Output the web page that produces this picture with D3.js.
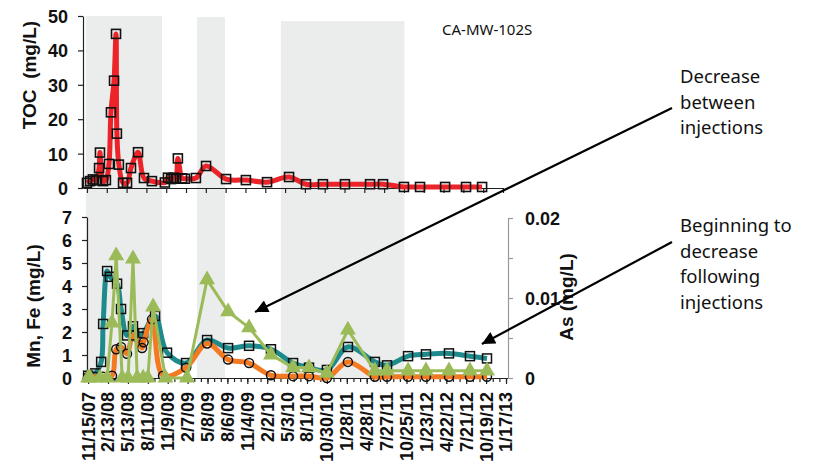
<!DOCTYPE html>
<html>
<head>
<meta charset="utf-8">
<script src="https://cdn.jsdelivr.net/npm/d3@7"></script>
<style>
  body { margin: 0; background: #fff; }
  svg { display: block; }
  .tick text, .axis-title { font-family: 'Liberation Sans', Arial, sans-serif; font-weight: bold; fill: #111; }
  .tick text { font-size: 18px; }
  .axis-title { font-size: 19px; white-space: pre; }
  .note { font-family: 'Noto Sans', sans-serif; font-size: 18.5px; fill: #111; }
  .well { font-family: 'Noto Sans', sans-serif; font-size: 15px; fill: #111; }
</style>
</head>
<body>
<div class="chart"></div>
<script>
const parseDate = d3.timeParse('%m/%d/%y')

// quarterly tick labels on the date axis
const xTickLabels = ['11/15/07', '2/13/08', '5/13/08', '8/11/08', '11/9/08', '2/7/09', '5/8/09',
  '8/6/09', '11/4/09', '2/2/10', '5/3/10', '8/1/10', '10/30/10', '1/28/11', '4/28/11',
  '7/27/11', '10/25/11', '1/23/12', '4/22/12', '7/21/12', '10/19/12', '1/17/13']

// injection periods (grey bands)
const injectionStarts = ['11/10/07', '3/29/09', '4/14/10']
const injectionEnds = ['10/21/08', '8/3/09', '10/27/11']
const injectionTops = [50, 49.7, 48.5]

// TOC (mg/L)
const tocDates = ['11/15/07', '11/29/07', '12/12/07', '12/26/07', '1/9/08', '1/13/08', '1/27/08',
  '2/9/08', '2/23/08', '3/3/08', '3/17/08', '3/26/08', '3/30/08', '4/8/08', '4/27/08', '5/15/08',
  '6/2/08', '7/4/08', '7/31/08', '9/5/08', '11/3/08', '11/17/08', '12/1/08', '12/14/08',
  '12/23/08', '1/1/09', '1/20/09', '2/2/09', '3/24/09', '5/9/09', '8/8/09', '11/6/09',
  '2/10/10', '5/21/10', '8/6/10', '10/22/10', '1/30/11', '5/24/11', '7/22/11', '10/25/11',
  '1/6/12', '4/29/12', '8/2/12', '10/14/12']
const tocValues = [1.5, 2.0, 2.5, 2.2, 5.8, 10.3, 2.0, 2.3, 7.0, 22, 31.2, 44.8, 15.8, 6.8, 1.5,
  1.5, 5.8, 10.4, 2.9, 2.0, 1.6, 3.0, 2.6, 3.0, 2.7, 8.6, 2.8, 2.7, 2.9, 6.4, 2.6, 2.3, 1.7, 3.2,
  1.1, 1.1, 1.1, 1.1, 1.1, 0.3, 0.3, 0.3, 0.3, 0.3]

// Mn (mg/L) - teal squares
const mnDates = ['11/15/07', '12/17/07', '1/13/08', '1/22/08', '2/9/08', '2/22/08', '3/25/08',
  '4/12/08', '5/9/08', '6/5/08', '7/2/08', '7/21/08', '9/13/08', '11/6/08', '1/31/09', '5/6/09',
  '8/9/09', '11/12/09', '2/19/10', '5/30/10', '8/10/10', '10/30/10', '2/2/11', '6/4/11',
  '7/29/11', '11/1/11', '1/21/12', '5/4/12', '8/7/12', '10/23/12']
const mnValues = [0.1, 0.2, 0.7, 2.35, 4.65, 4.4, 4.1, 3.0, 1.85, 2.25, 1.8, 1.95, 2.7, 1.1, 0.65,
  1.65, 1.3, 1.4, 1.25, 0.65, 0.45, 0.35, 1.35, 0.7, 0.55, 0.95, 1.03, 1.07, 0.95, 0.85]

// Fe (mg/L) - orange circles
const feDates = ['11/15/07', '12/17/07', '1/22/08', '3/2/08', '3/21/08', '4/12/08', '5/9/08',
  '6/5/08', '7/16/08', '7/23/08', '8/30/08', '10/19/08', '1/31/09', '5/6/09', '8/9/09',
  '11/12/09', '2/19/10', '5/30/10', '8/10/10', '10/30/10', '2/2/11', '6/4/11', '7/29/11',
  '11/1/11', '1/21/12', '5/4/12', '8/7/12', '10/23/12']
const feValues = [0.05, 0.05, 0.05, 0.1, 1.25, 1.35, 1.05, 1.85, 1.3, 1.55, 2.55, 0.1, 0.45, 1.5,
  0.8, 0.65, 0.12, 0.08, 0.08, 0, 0.7, 0.05, 0.05, 0.05, 0.05, 0.05, 0.05, 0.05]

// As (mg/L) - green triangles, right axis
const asDates = ['11/15/07', '11/24/07', '1/8/08', '2/9/08', '3/2/08', '3/21/08', '4/17/08',
  '5/14/08', '6/5/08', '6/24/08', '7/21/08', '8/11/08', '9/4/08', '10/30/08', '2/4/09',
  '5/6/09', '8/9/09', '11/12/09', '2/19/10', '5/30/10', '8/10/10', '10/30/10', '2/2/11',
  '6/4/11', '7/29/11', '11/1/11', '1/21/12', '5/4/12', '8/7/12', '10/23/12']
const asValues = [0, 0, 0, 0, 0.0069, 0.0153, 0, 0, 0.0149, 0, 0, 0, 0.0089, 0, 0, 0.0123,
  0.0083, 0.0063, 0.0029, 0.0013, 0.0013, 0.0006, 0.006, 0.0009, 0.0009, 0.0009, 0.0009,
  0.0009, 0.0009, 0.0009]

// annotations
const noteLines = [
  ['Decrease', 'between', 'injections'],
  ['Beginning to', 'decrease', 'following', 'injections']
]
const noteTipDates = ['12/9/09', '9/30/12']
const noteTipValues = [2.87, 1.48]

const colors = { toc: '#ec2328', mn: '#1e8a8b', fe: '#f47a22', as: '#9bbb59', band: '#ebecec' }

const tickDates = xTickLabels.map(parseDate)
const firstTick = tickDates[0]
const lastTick = tickDates[tickDates.length - 1]

const svg = d3.select('.chart')
  .append('svg')
  .attr('width', 816)
  .attr('height', 472)

svg.append('defs')
  .append('marker')
  .attr('id', 'head')
  .attr('viewBox', '0 0 10 10')
  .attr('refX', 10)
  .attr('refY', 5)
  .attr('markerUnits', 'userSpaceOnUse')
  .attr('markerWidth', 16)
  .attr('markerHeight', 13)
  .attr('orient', 'auto')
  .append('path')
  .attr('d', 'M0,0L10,5L0,10z')
  .attr('fill', '#000')

// scales
const xTop = d3.scaleTime()
  .domain([d3.timeDay.offset(firstTick, -18), lastTick])
  .range([83, 503])
const yToc = d3.scaleLinear().domain([0, 50]).range([188, 16])

const xBottom = d3.scaleTime()
  .domain([d3.timeDay.offset(firstTick, -5), d3.timeDay.offset(lastTick, 9)])
  .range([87, 508])
const yMetal = d3.scaleLinear().domain([0, 7]).range([378, 217])
const yAs = d3.scaleLinear().domain([0, 0.02]).range([378, 218])

// injection bands spanning both panels
svg.append('g')
  .selectAll('rect')
  .data(injectionStarts)
  .join('rect')
  .attr('x', (d) => xTop(parseDate(d)))
  .attr('y', (d, i) => yToc(injectionTops[i]))
  .attr('width', (d, i) => xTop(parseDate(injectionEnds[i])) - xTop(parseDate(d)))
  .attr('height', (d, i) => yMetal(0) - yToc(injectionTops[i]))
  .attr('fill', colors.band)

makeTopChart()
makeBottomChart()
makeNotes()

function styleAxis(g, color) {
  g.selectAll('.domain').attr('stroke', color).attr('stroke-width', 1.2)
  g.selectAll('.tick line').attr('stroke', color).attr('stroke-width', 1.2)
}

function makeTopChart() {
  svg.append('g')
    .attr('transform', `translate(0, ${yToc(0)})`)
    .call(d3.axisBottom(xTop).tickValues(tickDates).tickSize(5).tickSizeOuter(0).tickFormat(''))
    .call((g) => styleAxis(g, '#222'))

  svg.append('g')
    .attr('transform', `translate(${xTop.range()[0]}, 0)`)
    .call(d3.axisLeft(yToc).tickValues([0, 10, 20, 30, 40, 50]).tickSize(5).tickSizeOuter(0).tickPadding(10))
    .call((g) => styleAxis(g, '#222'))
    .call((g) => g.selectAll('.tick text').attr('dy', '0.36em'))

  svg.append('text')
    .attr('class', 'axis-title')
    .attr('transform', 'translate(36, 75) rotate(-90)')
    .attr('text-anchor', 'middle')
    .text('TOC  (mg/L)')

  svg.append('text')
    .attr('class', 'well')
    .attr('x', 442)
    .attr('y', 35)
    .text('CA-MW-102S')

  const data = tocDates.map((d, i) => ({ date: parseDate(d), value: tocValues[i] }))

  svg.append('path')
    .datum(data)
    .attr('fill', 'none')
    .attr('stroke', colors.toc)
    .attr('stroke-width', 5)
    .attr('stroke-linejoin', 'round')
    .attr('d', d3.line()
      .x((d) => xTop(d.date))
      .y((d) => yToc(d.value))
      .curve(d3.curveCatmullRom.alpha(0.5)))

  svg.append('g')
    .selectAll('rect')
    .data(data)
    .join('rect')
    .attr('x', (d) => xTop(d.date) - 4.5)
    .attr('y', (d) => yToc(d.value) - 4.5)
    .attr('width', 9)
    .attr('height', 9)
    .attr('fill', 'none')
    .attr('stroke', '#111')
    .attr('stroke-width', 1.6)
}

function makeBottomChart() {
  // minor ticks every 30 days
  const minorDates = d3.range(0, 64).map((i) => d3.timeDay.offset(firstTick, i * 30))
    .filter((d) => d <= lastTick)

  svg.append('g')
    .attr('transform', `translate(0, ${yMetal(0)})`)
    .call(d3.axisBottom(xBottom).tickValues(minorDates).tickSize(4).tickSizeOuter(0).tickFormat(''))
    .call((g) => styleAxis(g, '#222'))

  svg.append('g')
    .attr('transform', `translate(0, ${yMetal(0)})`)
    .call(d3.axisBottom(xBottom).tickValues(tickDates).tickSize(6).tickSizeOuter(0).tickFormat(''))
    .call((g) => styleAxis(g, '#222'))

  // rotated date labels
  svg.append('g')
    .attr('class', 'tick')
    .selectAll('text')
    .data(tickDates)
    .join('text')
    .attr('transform', (d) => `translate(${xBottom(d)}, ${yMetal(0) + 14}) rotate(-90)`)
    .attr('text-anchor', 'end')
    .attr('dy', '0.36em')
    .text((d, i) => xTickLabels[i])

  svg.append('g')
    .attr('transform', `translate(${xBottom.range()[0]}, 0)`)
    .call(d3.axisLeft(yMetal).ticks(7).tickSize(5).tickSizeOuter(0).tickPadding(10))
    .call((g) => styleAxis(g, '#222'))
    .call((g) => g.selectAll('.tick text').attr('dy', '0.36em'))

  svg.append('g')
    .attr('transform', `translate(${xBottom.range()[1]}, 0)`)
    .call(d3.axisRight(yAs).tickValues([0, 0.005, 0.01, 0.015, 0.02]).tickSize(5).tickSizeOuter(0).tickPadding(12)
      .tickFormat((d) => (d === 0 ? '0' : (d * 100) % 1 === 0 ? d3.format('.2f')(d) : '')))
    .call((g) => styleAxis(g, '#999'))
    .call((g) => g.selectAll('.tick text').attr('dy', '0.36em'))

  svg.append('text')
    .attr('class', 'axis-title')
    .attr('transform', 'translate(40, 306) rotate(-90)')
    .attr('text-anchor', 'middle')
    .text('Mn, Fe (mg/L)')

  svg.append('text')
    .attr('class', 'axis-title')
    .attr('transform', 'translate(573, 297) rotate(-90)')
    .attr('text-anchor', 'middle')
    .text('As (mg/L)')

  const mn = mnDates.map((d, i) => ({ date: parseDate(d), value: mnValues[i] }))
  const fe = feDates.map((d, i) => ({ date: parseDate(d), value: feValues[i] }))
  const as = asDates.map((d, i) => ({ date: parseDate(d), value: asValues[i] }))

  const smooth = (y) => d3.line()
    .x((d) => xBottom(d.date))
    .y((d) => y(d.value))
    .curve(d3.curveCatmullRom.alpha(0.5))

  // Mn
  svg.append('path')
    .datum(mn)
    .attr('fill', 'none')
    .attr('stroke', colors.mn)
    .attr('stroke-width', 5)
    .attr('stroke-linejoin', 'round')
    .attr('d', smooth(yMetal))

  svg.append('g')
    .selectAll('rect')
    .data(mn)
    .join('rect')
    .attr('x', (d) => xBottom(d.date) - 4.5)
    .attr('y', (d) => yMetal(d.value) - 4.5)
    .attr('width', 9)
    .attr('height', 9)
    .attr('fill', 'none')
    .attr('stroke', '#111')
    .attr('stroke-width', 1.5)

  // Fe
  svg.append('path')
    .datum(fe)
    .attr('fill', 'none')
    .attr('stroke', colors.fe)
    .attr('stroke-width', 5)
    .attr('stroke-linejoin', 'round')
    .attr('d', smooth(yMetal))

  svg.append('g')
    .selectAll('circle')
    .data(fe)
    .join('circle')
    .attr('cx', (d) => xBottom(d.date))
    .attr('cy', (d) => yMetal(d.value))
    .attr('r', 4.5)
    .attr('fill', 'none')
    .attr('stroke', '#111')
    .attr('stroke-width', 1.5)

  // As
  svg.append('path')
    .datum(as)
    .attr('fill', 'none')
    .attr('stroke', colors.as)
    .attr('stroke-width', 3)
    .attr('stroke-linejoin', 'round')
    .attr('d', d3.line()
      .x((d) => xBottom(d.date))
      .y((d) => yAs(d.value)))

  svg.append('g')
    .selectAll('path')
    .data(as)
    .join('path')
    .attr('transform', (d) => `translate(${xBottom(d.date)}, ${yAs(d.value)})`)
    .attr('d', d3.symbol(d3.symbolTriangle, 110))
    .attr('fill', colors.as)
}

function makeNotes() {
  const tails = [[672, 108], [672, 242]]
  const textTops = [83, 232]

  noteLines.forEach((lines, i) => {
    svg.append('line')
      .attr('x1', tails[i][0])
      .attr('y1', tails[i][1])
      .attr('x2', xBottom(parseDate(noteTipDates[i])))
      .attr('y2', yMetal(noteTipValues[i]))
      .attr('stroke', '#000')
      .attr('stroke-width', 2.2)
      .attr('marker-end', 'url(#head)')

    svg.append('text')
      .attr('class', 'note')
      .selectAll('tspan')
      .data(lines)
      .join('tspan')
      .attr('x', 680)
      .attr('y', (d, j) => textTops[i] + j * 25.5)
      .text((d) => d)
  })
}
</script>
</body>
</html>
